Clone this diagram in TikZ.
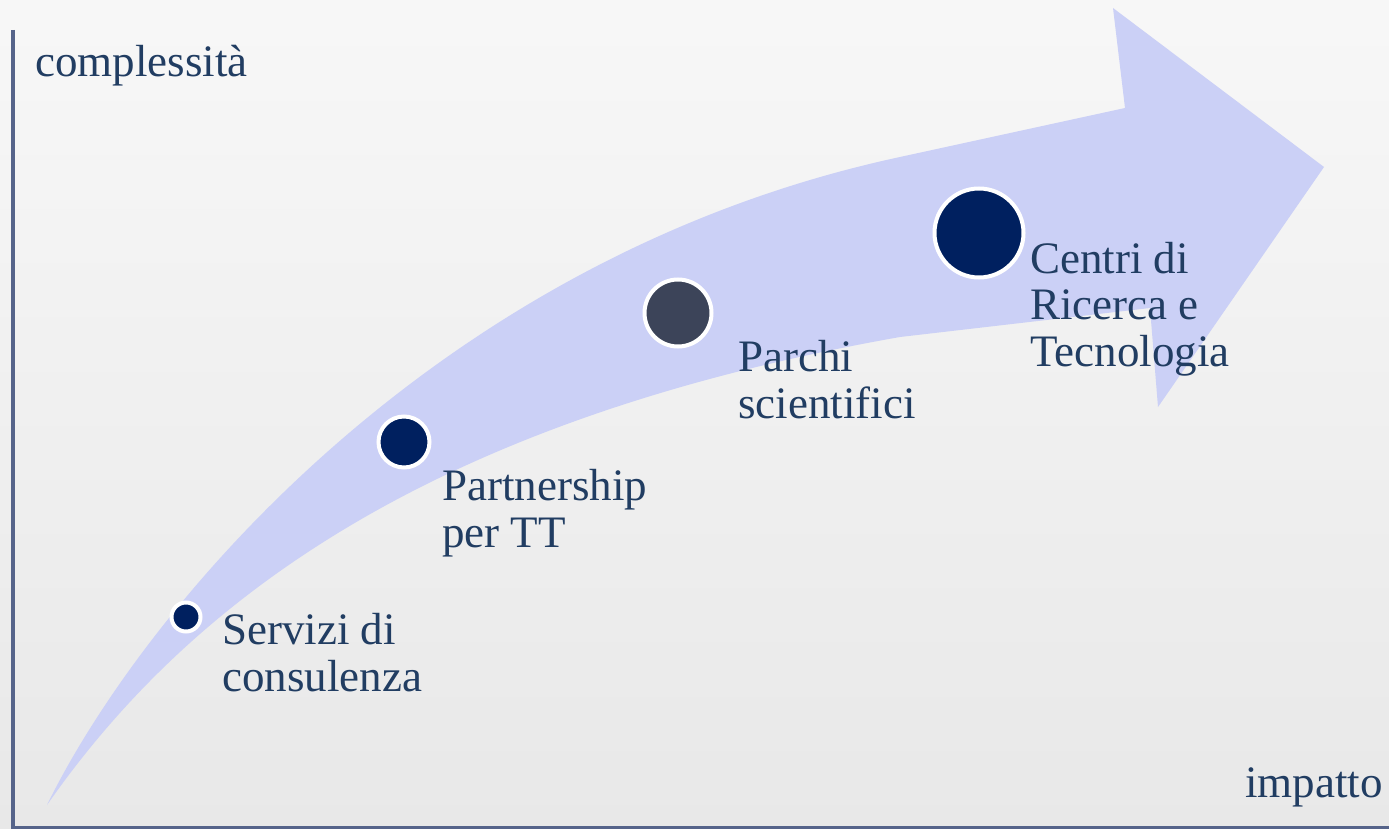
\documentclass[tikz,border=0pt]{standalone}
\usepackage{fontspec}
\setmainfont{Liberation Serif}
\usepackage{tikz}
\usepackage{xcolor}
\usetikzlibrary{positioning}
\definecolor{arrowfill}{HTML}{CBD0F6}
\definecolor{dotnavy}{HTML}{00205F}
\definecolor{dotslate}{HTML}{3C4459}
\definecolor{textblue}{HTML}{213D62}
\definecolor{axisblue}{HTML}{56648A}
\tikzset{
    stage-dot/.style = {circle, fill=dotnavy, draw=white, line width=4pt, inner sep=0pt},
    stage-label/.style = {anchor=base west, align=left, inner sep=0pt, text=textblue, font=\fontsize{45}{46.5}\selectfont},
    axis-line/.style = {draw=axisblue},
}

\begin{document}
\begin{tikzpicture}[x=1pt, y=-1pt]
\shade[top color=gray!6, bottom color=gray!18] (0,0) rectangle (1389,829);
\useasboundingbox (0,0) rectangle (1389,829);

% axes
\coordinate (ytop) at (13,30);
\coordinate (ybot) at (13,829);
\coordinate (origin) at (11,827);
\coordinate (xend) at (1389,827);
\draw[axis-line, line width=4pt] (ytop) -- (ybot);
\draw[axis-line, line width=3pt] (origin) -- (xend);
\node[stage-label] (yname) at (35,77) {complessità};
\node[stage-label, anchor=base east] (xname) at (1383,797) {impatto};

% big curved arrow
\fill[arrowfill] (47,805) .. controls (190,600) and (430,420) .. (900,337)
    -- (1150,308) -- (1158,407) -- (1324,167) -- (1113,8) -- (1125,108)
    -- (900,157) .. controls (430,258) and (140,615) .. (47,805) -- cycle;

% stages (labels sit on the baseline of their last line)
\node[stage-dot, minimum size=29pt] (servizi) at (186,617) {};
\node[stage-dot, minimum size=51pt] (partner) at (404,442) {};
\node[stage-dot, minimum size=67pt, fill=dotslate] (parchi) at (678,313) {};
\node[stage-dot, minimum size=89pt] (centri) at (979,233) {};

\node[stage-label] (servizi-text) at (222,691) {Servizi di\\consulenza};
\node[stage-label] (partner-text) at (442,547) {Partnership\\per TT};
\node[stage-label] (parchi-text) at (738,418) {Parchi\\scientifici};
\node[stage-label] (centri-text) at (1030,366) {Centri di\\Ricerca e\\Tecnologia};
\end{tikzpicture}
\end{document}
